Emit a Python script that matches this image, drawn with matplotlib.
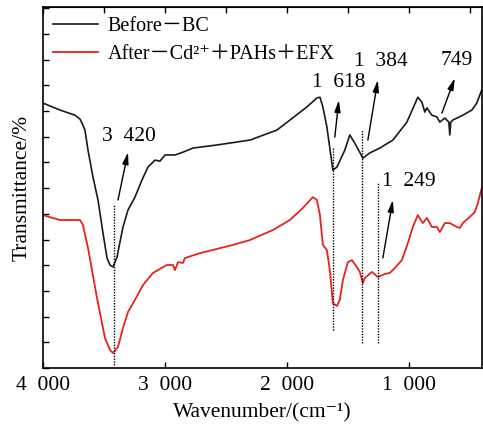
'''FTIR spectra before / after adsorption'''
import matplotlib
matplotlib.use("Agg")
import matplotlib.pyplot as plt
from matplotlib.ticker import MultipleLocator

FONTS = ['Liberation Serif', 'Noto Sans CJK SC', 'DejaVu Sans']
SP = '  '  # digit-wide gap used in "3 420" style numbers

# Before-BC spectrum (wavenumber, transmittance in arbitrary units)
before_wn = [4000, 3861, 3738, 3697, 3680, 3656, 3631, 3590, 3549, 3508,
             3475, 3451, 3426, 3393, 3344, 3303, 3246, 3188, 3139, 3082,
             3041, 3000, 2918, 2852, 2770, 2574, 2303, 2082, 1975, 1836,
             1754, 1729, 1705, 1672, 1623, 1590, 1525, 1484, 1443, 1377,
             1320, 1238, 1131, 1016, 926, 893, 869, 852, 811, 770,
             746, 705, 672, 664, 656, 639, 557, 483, 443, 402]
before_t = [10.31, 10.04, 9.84, 9.69, 9.53, 9.26, 8.48, 7.43, 6.54, 5.25,
            4.28, 4.01, 3.93, 4.32, 5.49, 6.15, 6.65, 7.32, 7.82, 8.09,
            8.05, 8.29, 8.29, 8.40, 8.56, 8.68, 8.87, 9.26, 9.65, 10.16,
            10.51, 10.54, 10.16, 9.38, 7.70, 7.82, 8.48, 9.07, 8.75, 8.17,
            8.37, 8.56, 8.87, 9.57, 10.54, 10.35, 9.96, 10.12, 9.84, 9.77,
            9.57, 9.73, 9.57, 9.07, 9.57, 9.65, 9.84, 10.04, 10.31, 10.82]

# After-Cd2+ + PAHs + EFX spectrum
after_wn = [4000, 3861, 3697, 3672, 3631, 3557, 3492, 3451, 3426, 3385,
            3344, 3303, 3246, 3180, 3098, 2984, 2934, 2918, 2893, 2852,
            2836, 2713, 2443, 2303, 2115, 1975, 1869, 1787, 1754, 1729,
            1705, 1672, 1648, 1623, 1590, 1566, 1541, 1500, 1467, 1426,
            1402, 1377, 1361, 1303, 1254, 1197, 1156, 1115, 1057, 1008,
            967, 926, 885, 852, 811, 770, 746, 705, 664, 607,
            582, 557, 500, 459, 434, 402]
after_t = [5.95, 5.76, 5.76, 5.56, 4.67, 2.72, 1.17, 0.70, 0.58, 0.82,
           1.56, 2.18, 2.65, 3.23, 3.70, 4.01, 4.01, 3.81, 4.12, 4.09,
           4.28, 4.47, 4.79, 4.98, 5.37, 5.76, 6.23, 6.65, 6.54, 5.95,
           4.79, 4.59, 3.81, 2.53, 2.41, 2.65, 3.42, 4.12, 4.20, 3.93,
           3.74, 3.31, 3.50, 3.74, 3.54, 3.66, 3.70, 3.89, 4.20, 4.86,
           5.49, 5.95, 5.64, 5.84, 5.49, 5.49, 5.29, 5.64, 5.64, 5.49,
           5.45, 5.64, 5.88, 6.07, 6.42, 7.00]

# marked peaks: wavenumber, dotted line top / bottom
peak_wn = [3420, 1618, 1384, 1249]
peak_top = [6.34, 8.56, 9.26, 7.24]
peak_bottom = [0.12, 1.48, 0.97, 0.97]

# arrows: label, text position, arrow start, arrow tip
arrow_labels = ['3' + SP + '420', '1' + SP + '618', '1' + SP + '384', '749',
                '1' + SP + '249']
text_xy = [(3295, 9.0), (1574, 11.13), (1229, 11.91), (606, 11.98), (1000, 7.24)]
tail_xy = [(3385, 6.54), (1607, 8.99), (1336, 8.87), (729, 9.92), (1213, 4.28)]
tip_xy = [(3303, 8.40), (1574, 10.43), (1254, 11.21), (623, 11.28), (1131, 6.54)]

xticks = [4000, 3000, 2000, 1000]
xtick_labels = ['4' + SP + '000', '3' + SP + '000', '2' + SP + '000',
                '1' + SP + '000']


def main():
    ''' Main function for module'''
    plt.rcParams['font.family'] = FONTS
    fig = plt.figure(figsize=(4.83, 4.30), dpi=100)
    ax = fig.add_axes([43 / 483, 62 / 430, 439 / 483, 361 / 430])

    ax.plot(before_wn, before_t, color='#1a1a1a', lw=1.2,
            label='Before\uff0dBC')
    ax.plot(after_wn, after_t, color='#e8221d', lw=1.3,
            label='After\uff0dCd\u00b2\u207a\uff0bPAHs\uff0bEFX')

    for wn, top, bottom in zip(peak_wn, peak_top, peak_bottom):
        ax.plot([wn, wn], [bottom, top], color='k', lw=1.0, ls=(0, (1, 1)))

    for lab, txy, s, e in zip(arrow_labels, text_xy, tail_xy, tip_xy):
        ax.annotate('', xy=e, xytext=s,
                    arrowprops=dict(arrowstyle='-|>,head_length=0.7,head_width=0.18',
                                    color='k', lw=1.0, shrinkA=0, shrinkB=0))
        ax.text(txy[0], txy[1], lab, ha='center', va='center', fontsize=15.5)

    ax.set_xlim(4000, 400)
    ax.set_ylim(0, 14.05)
    ax.set_xticks(xticks)
    ax.set_xticklabels(xtick_labels, fontsize=15.5)
    ax.yaxis.set_major_locator(MultipleLocator(1))
    ax.set_yticklabels([])
    ax.tick_params(axis='both', direction='in', length=4, width=1, pad=6)
    ax.tick_params(axis='y', right=False)

    top = ax.secondary_xaxis('top')
    top.set_xticks(list(range(4000, 400, -500)))
    top.set_xticklabels([])
    top.tick_params(direction='in', length=4, width=1)

    for sp in ax.spines.values():
        sp.set_linewidth(1.2)

    ax.set_xlabel('Wavenumber/(cm\u207b\u00b9)', fontsize=15.5, labelpad=6)
    ax.set_ylabel('Transmittance/%', fontsize=15.5, labelpad=2)

    ax.legend(loc='upper left', frameon=False, fontsize=14.5, handlelength=2.25,
              handletextpad=0.45, borderaxespad=0.1, borderpad=0.4,
              labelspacing=0.45)

    fig.savefig('out.png', dpi=100)


if __name__ == "__main__":
    main()
